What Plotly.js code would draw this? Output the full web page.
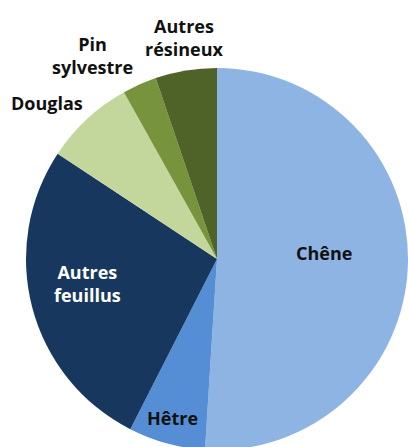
<!DOCTYPE html>
<html>
<head>
<meta charset="utf-8">
<script src="https://cdn.plot.ly/plotly-3.0.1.min.js"></script>
<style>
html,body{margin:0;padding:0;overflow:hidden;background:#fff;}
#chart{width:408px;height:470px;}
</style>
</head>
<body>
<div id="chart"></div>
<script>
const labels = ["Chêne", "Hêtre", "Autres<br>feuillus", "Douglas", "Pin<br>sylvestre", "Autres<br>résineux"];
const values = [51.0, 6.5, 26.8, 7.6, 2.9, 5.2];
const colors = ["#8EB4E3", "#558ED5", "#17375E", "#C3D69B", "#77933C", "#4F6228"];
const textColors = ["#111111", "#111111", "#FFFFFF", "#111111", "#111111", "#111111"];
// label placement: distance from the centre (fraction of radius) and angular shift from the slice middle (degrees)
const labelRadius = [0.56, 0.864, 0.688, 1.208, 1.247, 1.172];
const labelShift = [-5, 0.2, 3.8, -4.6, -7.5, 0.9];

const W = 408, H = 470;
const cx = 217, cy = 259, R = 191;

const total = values.reduce((a, b) => a + b, 0);
let cum = 0;
const annotations = values.map((v, i) => {
  const mid = (cum + v / 2) / total * 2 * Math.PI + labelShift[i] * Math.PI / 180;
  cum += v;
  const r = labelRadius[i] * R;
  return {
    text: labels[i],
    xref: "paper", yref: "paper",
    x: (cx + r * Math.sin(mid)) / W,
    y: 1 - (cy - r * Math.cos(mid)) / H,
    xanchor: "center", yanchor: "middle",
    showarrow: false,
    align: "center",
    font: {family: "Open Sans", size: 18, weight: "bold", color: textColors[i]}
  };
});

Plotly.newPlot("chart", [{
  type: "pie",
  labels: labels,
  values: values,
  sort: false,
  direction: "clockwise",
  rotation: 0,
  marker: {colors: colors, line: {width: 0}},
  textinfo: "none",
  hoverinfo: "none",
  showlegend: false,
  domain: {
    x: [(cx - R) / W, (cx + R) / W],
    y: [1 - (cy + R) / H, 1 - (cy - R) / H]
  }
}], {
  width: W, height: H,
  margin: {l: 0, r: 0, t: 0, b: 0},
  paper_bgcolor: "#ffffff",
  showlegend: false,
  annotations: annotations
}, {staticPlot: true});
</script>
</body>
</html>
